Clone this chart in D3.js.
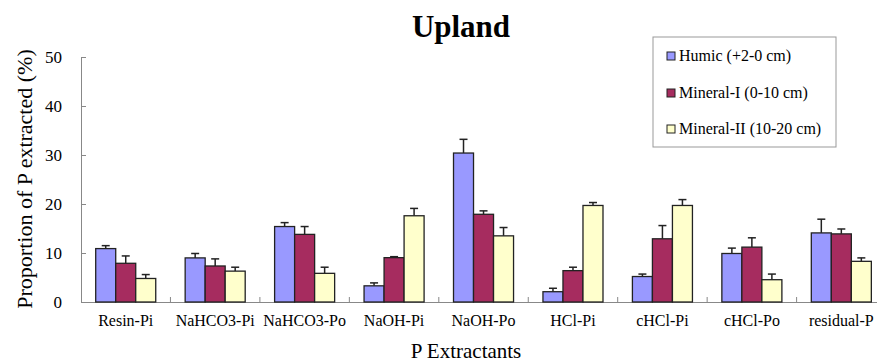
<!DOCTYPE html>
<html>
<head>
<meta charset="utf-8">
<script src="https://cdn.jsdelivr.net/npm/d3@7"></script>
<style>
  body { margin: 0; background: #fff; }
  svg { display: block; }
  svg text { font-family: "Liberation Serif", "Times New Roman", serif; }
</style>
</head>
<body>
<div id="chart"></div>
<script>
// data
const categories = ["Resin-Pi", "NaHCO3-Pi", "NaHCO3-Po", "NaOH-Pi", "NaOH-Po", "HCl-Pi", "cHCl-Pi", "cHCl-Po", "residual-P"];
const seriesNames = ["Humic (+2-0 cm)", "Mineral-I (0-10 cm)", "Mineral-II (10-20 cm)"];
const humic = [10.9, 9.0, 15.4, 3.3, 30.4, 2.1, 5.2, 9.9, 14.1];
const mineralI = [7.9, 7.35, 13.8, 9.05, 17.9, 6.4, 12.9, 11.2, 13.9];
const mineralII = [4.8, 6.3, 5.85, 17.6, 13.5, 19.7, 19.7, 4.55, 8.3];
const humicErr = [0.6, 0.9, 0.8, 0.6, 2.8, 0.7, 0.5, 1.1, 2.8];
const mineralIErr = [1.5, 1.45, 1.6, 0.2, 0.7, 0.7, 2.7, 1.9, 1.0];
const mineralIIErr = [0.8, 0.8, 1.25, 1.5, 1.7, 0.6, 1.2, 1.15, 0.7];
const yTicks = [0, 10, 20, 30, 40, 50];
const colors = ["#9999ff", "#a62c5f", "#ffffcc"];

const width = 877, height = 363;
const svg = d3.select("#chart").append("svg")
  .attr("width", width)
  .attr("height", height);

const values = [humic, mineralI, mineralII];
const errors = [humicErr, mineralIErr, mineralIIErr];

// Scales
const x0 = d3.scaleBand()
  .domain(categories)
  .range([81, 81 + 9 * 89.45])
  .padding(0);

const x1 = d3.scaleBand()
  .domain(d3.range(3))
  .range([0, x0.bandwidth()])
  .paddingInner(0)
  .paddingOuter(0.735);

const y = d3.scaleLinear()
  .domain([0, 50])
  .range([302, 57]);

// Axes
const yAxis = d3.axisLeft(y).tickValues(yTicks).tickSizeInner(-5).tickSizeOuter(-5).tickPadding(19);
const gy = svg.append("g")
  .attr("transform", "translate(81,0)")
  .call(yAxis)
  .attr("font-family", null)
  .attr("font-size", null);
gy.select(".domain").attr("stroke", "#888");
gy.selectAll(".tick line").attr("stroke", "#888");
gy.selectAll(".tick text")
  .style("font-size", "17px")
  .attr("fill", "#000");

const xAxis = d3.axisBottom(x0).tickSize(0).tickSizeOuter(0).tickPadding(13);
const gx = svg.append("g")
  .attr("transform", "translate(0,302)")
  .call(xAxis)
  .attr("font-family", null)
  .attr("font-size", null);
gx.select(".domain").attr("stroke", "#888");
gx.selectAll(".tick text")
  .style("font-size", "16px")
  .attr("fill", "#000");

// inside tick marks between categories
svg.append("g").selectAll("line")
  .data(categories.slice(1))
  .join("line")
  .attr("x1", d => x0(d))
  .attr("x2", d => x0(d))
  .attr("y1", 302)
  .attr("y2", 297)
  .attr("stroke", "#888");

// Bars
const groups = svg.append("g").selectAll("g")
  .data(categories)
  .join("g")
  .attr("transform", d => `translate(${x0(d)},0)`);

groups.each(function(cat, ci) {
  const g = d3.select(this);
  for (let s = 0; s < 3; s++) {
    const v = values[s][ci];
    const e = errors[s][ci];
    const bx = x1(s);
    const cx = bx + x1.bandwidth() / 2;
    // error bar (upper only)
    g.append("line")
      .attr("x1", cx).attr("x2", cx)
      .attr("y1", y(v)).attr("y2", y(v + e))
      .attr("stroke", "#222").attr("stroke-width", 1.5);
    g.append("line")
      .attr("x1", cx - 4).attr("x2", cx + 4)
      .attr("y1", y(v + e)).attr("y2", y(v + e))
      .attr("stroke", "#222").attr("stroke-width", 1.5);
    g.append("rect")
      .attr("x", bx)
      .attr("y", y(v))
      .attr("width", x1.bandwidth())
      .attr("height", y(0) - y(v))
      .attr("fill", colors[s])
      .attr("stroke", "#222")
      .attr("stroke-width", 1.3);
  }
});

// Title
svg.append("text")
  .attr("x", 461)
  .attr("y", 37)
  .attr("text-anchor", "middle")
  .style("font-size", "31px")
  .style("font-weight", "bold")
  .text("Upland");

// Axis titles
svg.append("text")
  .attr("transform", "translate(32,179) rotate(-90)")
  .attr("text-anchor", "middle")
  .style("font-size", "22px")
  .text("Proportion of P extracted (%)");

svg.append("text")
  .attr("x", 466)
  .attr("y", 358)
  .attr("text-anchor", "middle")
  .style("font-size", "21px")
  .text("P Extractants");

// Legend
const legend = svg.append("g");
legend.append("rect")
  .attr("x", 653).attr("y", 37)
  .attr("width", 183).attr("height", 110)
  .attr("fill", "#fff")
  .attr("stroke", "#999");

const rowY = [56, 93, 129];
seriesNames.forEach((name, i) => {
  legend.append("rect")
    .attr("x", 667).attr("y", rowY[i] - 4)
    .attr("width", 8).attr("height", 8)
    .attr("fill", colors[i])
    .attr("stroke", "#222");
  legend.append("text")
    .attr("x", 679).attr("y", rowY[i] + 5)
    .style("font-size", "16px")
    .text(name);
});
</script>
</body>
</html>
